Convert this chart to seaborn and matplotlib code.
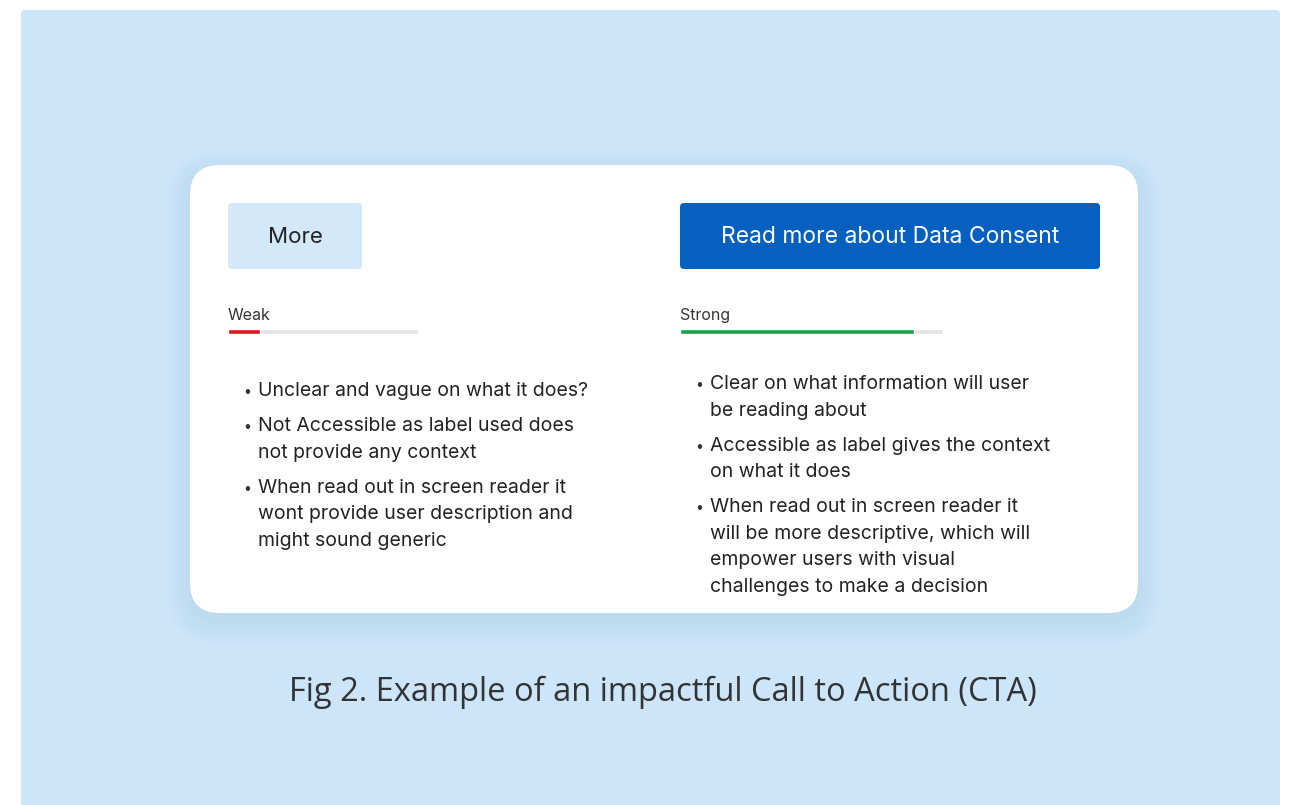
import matplotlib
matplotlib.use("Agg")
import matplotlib.pyplot as plt
from matplotlib.patches import FancyBboxPatch
import seaborn as sns
import pandas as pd

# content of the card
strength_labels = ["Weak", "Strong"]
strength_values = [0.17, 0.89]
button_labels = ["More", "Read more about Data Consent"]
weak_points = [
    ["Unclear and vague on what it does?"],
    ["Not Accessible as label used does", "not provide any context"],
    ["When read out in screen reader it", "wont provide user description and",
     "might sound generic"],
]
strong_points = [
    ["Clear on what information will user", "be reading about"],
    ["Accessible as label gives the context", "on what it does"],
    ["When read out in screen reader it", "will be more descriptive, which will",
     "empower users with visual", "challenges to make a decision"],
]
caption = "Fig 2. Example of an impactful Call to Action (CTA)"

sns.set_theme(style="white")
plt.rcParams['font.family'] = ['Inter', 'DejaVu Sans']

W, H = 1290, 805
fig = plt.figure(figsize=(W / 100, H / 100), dpi=100)
fig.patch.set_facecolor('white')
ax = fig.add_axes([0, 0, 1, 1])
ax.set_xlim(0, W)
ax.set_ylim(H, 0)
ax.axis('off')

# light blue panel
ax.add_patch(FancyBboxPatch((21, 10), 1259, 820, boxstyle="round,pad=0,rounding_size=4",
                            fc='#cce5f9', ec='none'))

# soft card shadow + card
for i in range(10):
    g = i * 2.5
    ax.add_patch(FancyBboxPatch((190 - g, 165 - g + 8), 948 + 2 * g, 448 + 2 * g,
                                boxstyle="round,pad=0,rounding_size=%d" % (30 + g),
                                fc='#8fb0d0', ec='none', alpha=0.018))
ax.add_patch(FancyBboxPatch((190, 165), 948, 448, boxstyle="round,pad=0,rounding_size=30",
                            fc='white', ec='none'))

# buttons
ax.add_patch(FancyBboxPatch((228, 203), 134, 66, boxstyle="round,pad=0,rounding_size=4",
                            fc='#d3e8f8', ec='none'))
ax.text(295, 237, button_labels[0], ha='center', va='center', fontsize=16, color='#222222')
ax.add_patch(FancyBboxPatch((680, 203), 420, 66, boxstyle="round,pad=0,rounding_size=4",
                            fc='#0560c0', ec='none'))
ax.text(890, 237, button_labels[1], ha='center', va='center', fontsize=16.5, color='white')

# strength labels
ax.text(228, 320, strength_labels[0], ha='left', va='baseline', fontsize=11.5, color='#333333')
ax.text(680, 320, strength_labels[1], ha='left', va='baseline', fontsize=11.5, color='#333333')

# strength meters drawn with seaborn
meter_boxes = [(228, 190), (680, 263)]
meter_colors = ['#e0141e', '#16a34a']
for label, val, (x0, w), col in zip(strength_labels, strength_values, meter_boxes, meter_colors):
    bax = fig.add_axes([x0 / W, 1 - 334 / H, w / W, 5 / H])
    df = pd.DataFrame({'level': [label], 'track': [1.0], 'value': [val]})
    sns.barplot(data=df, x='track', y='level', color='#e4e4e4', width=1, ax=bax)
    sns.barplot(data=df, x='value', y='level', color=col, width=1, ax=bax, saturation=1)
    bax.set_xlim(0, 1)
    bax.axis('off')

# bullet lists
def draw_points(points, x, y0):
    y = y0
    for item in points:
        ax.text(x - 15, y, "\u2022", ha='left', va='baseline', fontsize=10, color='#333333')
        for line in item:
            ax.text(x, y, line, ha='left', va='baseline', fontsize=14, color='#222222')
            y += 26.5
        y += 8.5

draw_points(weak_points, 258, 396)
draw_points(strong_points, 710, 389)

ax.text(663, 692, caption, ha='center', va='center', fontsize=23.5, color='#333333',
        family=['Open Sans', 'DejaVu Sans'])

fig.savefig('out.png', dpi=100)
